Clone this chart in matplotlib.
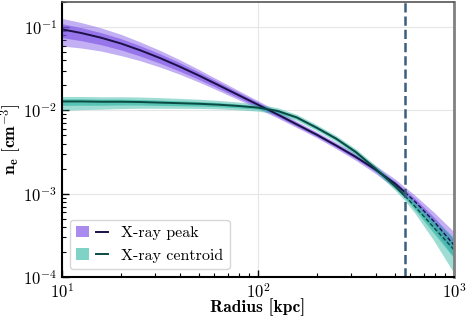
# Perfil de densidade eletrônica: pico de raios X vs centroide
import numpy as np
import matplotlib
matplotlib.use('Agg')
import matplotlib.pyplot as plt
from matplotlib.patches import Patch
from matplotlib.lines import Line2D
from matplotlib.legend_handler import HandlerTuple

plt.rcParams['font.family'] = 'serif'
plt.rcParams['font.serif'] = ['cmr10']
plt.rcParams['mathtext.fontset'] = 'cm'
plt.rcParams['axes.formatter.use_mathtext'] = True

# Dados
radius = np.array([10, 12.6, 15.8, 20, 25.1, 31.6, 39.8, 50.1, 63.1, 79.4, 100,
                   126, 158, 200, 251, 316, 398, 501, 562, 631, 794, 1000])
r_cut = 562  # kpc, linha vertical

peak_ne = np.array([0.0940, 0.0847, 0.0746, 0.0635, 0.0526, 0.0425, 0.0336, 0.0261,
                    0.0200, 0.0153, 0.0117, 0.00893, 0.00678, 0.00509, 0.00378,
                    0.00276, 0.00195, 0.00132, 0.00104, 0.000811, 0.000461, 0.000242])
# larguras das bandas em dex (acima / abaixo)
peak_up2 = np.array([.131, .125, .118, .110, .100, .092, .083, .073, .063, .055, .048,
                     .042, .038, .036, .038, .042, .048, .056, .062, .075, .110, .160])
peak_dn2 = np.array([.200, .180, .160, .145, .125, .108, .092, .078, .066, .056, .048,
                     .042, .038, .036, .038, .042, .048, .056, .062, .070, .100, .140])
peak_up1 = np.array([.067, .064, .061, .058, .055, .051, .047, .042, .037, .033, .030,
                     .026, .023, .021, .021, .022, .025, .028, .031, .037, .052, .070])
peak_dn1 = np.array([.100, .092, .084, .077, .069, .062, .055, .047, .040, .034, .030,
                     .026, .023, .021, .021, .022, .025, .028, .031, .036, .050, .068])

cent_ne = np.array([0.0128, 0.0128, 0.0127, 0.0127, 0.0126, 0.0124, 0.0122, 0.0120,
                    0.0117, 0.0113, 0.0108, 0.00984, 0.00822, 0.00617, 0.00457,
                    0.00316, 0.00200, 0.00123, 0.000944, 0.000708, 0.000388, 0.000213])
cent_up2 = np.array([.060, .060, .060, .060, .060, .060, .058, .055, .051, .047, .042,
                     .039, .037, .036, .036, .038, .040, .046, .054, .065, .100, .150])
cent_dn2 = np.array([.107, .098, .090, .082, .075, .068, .062, .056, .051, .047, .042,
                     .039, .037, .036, .036, .038, .040, .048, .058, .080, .160, .280])
cent_up1 = np.array([.032, .032, .031, .031, .030, .030, .029, .027, .025, .023, .020,
                     .019, .018, .018, .018, .019, .020, .023, .025, .032, .052, .080])
cent_dn1 = np.array([.048, .045, .042, .039, .036, .034, .031, .028, .025, .023, .020,
                     .019, .018, .018, .018, .019, .020, .024, .028, .040, .070, .100])

peak_color = '#7b4fe6'
peak_line = '#1c1048'
cent_color = '#2ab5a0'
cent_line = '#0b4a43'
vline_color = '#3b5e80'

fig = plt.figure(figsize=(4.66, 3.16), dpi=100)
ax = fig.add_axes([0.133, 0.1234, 0.841, 0.8703])
ax.set_xscale('log')
ax.set_yscale('log')

solid = radius <= r_cut
dashed = radius >= r_cut

for ne, up2, dn2, up1, dn1, col, lcol in [
        (peak_ne, peak_up2, peak_dn2, peak_up1, peak_dn1, peak_color, peak_line),
        (cent_ne, cent_up2, cent_dn2, cent_up1, cent_dn1, cent_color, cent_line)]:
    ax.fill_between(radius, ne / 10**dn2, ne * 10**up2, color=col, alpha=0.45, lw=0)
    ax.fill_between(radius, ne / 10**dn1, ne * 10**up1, color=col, alpha=0.6, lw=0)
    ax.plot(radius[solid], ne[solid], color=lcol, lw=1.4)
    ax.plot(radius[dashed], ne[dashed], color=lcol, lw=1.0, ls='--', dashes=(3, 1.5))

ax.axvline(r_cut, color=vline_color, ls='--', lw=1.8)

ax.set_xlim(10, 1000)
ax.set_ylim(1e-4, 0.2)
ax.grid(True, which='major', color='#e6e6e6', lw=0.8)
ax.set_axisbelow(True)

ax.tick_params(which='both', direction='in', labelsize=12)
ax.tick_params(which='major', length=5, width=1)
ax.tick_params(which='minor', length=3, width=0.8)

ax.spines['left'].set_color('black')
ax.spines['bottom'].set_color('black')
ax.spines['left'].set_linewidth(1.5)
ax.spines['bottom'].set_linewidth(1.5)
ax.spines['top'].set_color('#555555')
ax.spines['top'].set_linewidth(1.2)
ax.spines['right'].set_color('#808080')
ax.spines['right'].set_linewidth(2)

ax.set_xlabel('Radius [kpc]', fontfamily='cmb10', fontsize=12.5)
ax.xaxis.set_label_coords(0.5, -0.078)
ax.set_ylabel(r'$\mathbf{n_e\ [cm^{-3}]}$', fontsize=12.5, labelpad=-1)

handles = [(Patch(color=peak_color, alpha=0.65, lw=0), Line2D([], [], color=peak_line, lw=1.4)),
           (Patch(color=cent_color, alpha=0.6, lw=0), Line2D([], [], color=cent_line, lw=1.4))]
ax.legend(handles, ['X-ray peak', 'X-ray centroid'], loc='lower left', fontsize=11.5,
          handler_map={tuple: HandlerTuple(ndivide=None)}, edgecolor='#cccccc')

fig.savefig('out.png', dpi=100)
